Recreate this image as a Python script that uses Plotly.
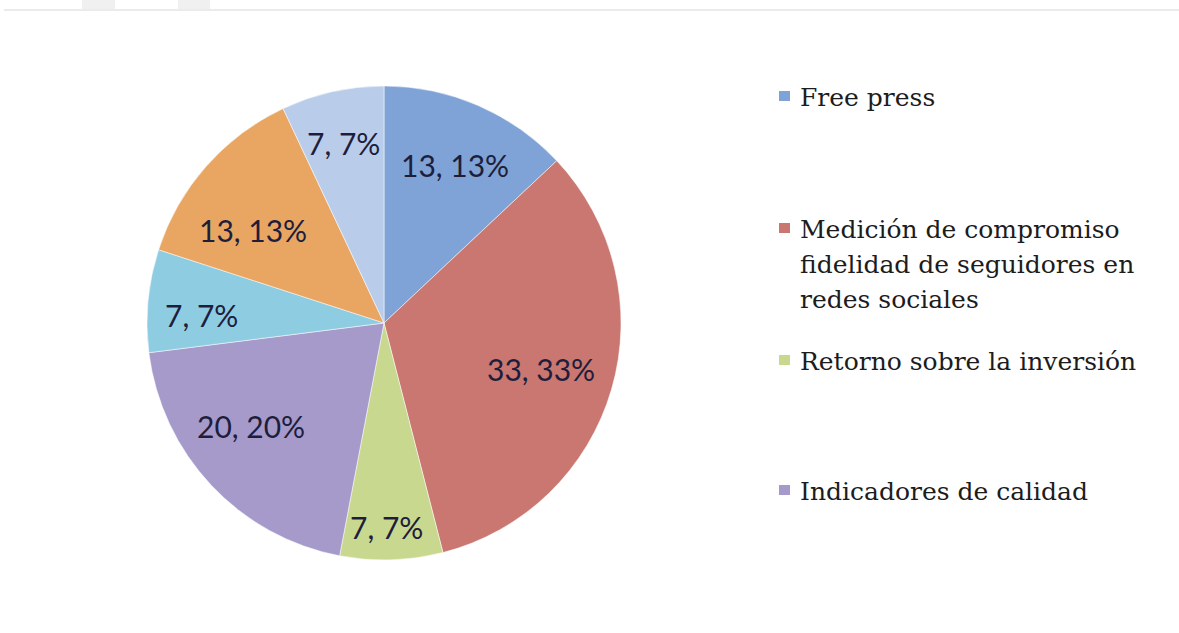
import math
import plotly.graph_objects as go

# Slice data, clockwise from 12 o'clock
categories = [
    "Free press",
    "Medición de compromiso fidelidad de seguidores en redes sociales",
    "Retorno sobre la inversión",
    "Indicadores de calidad",
    "Otros 1",
    "Otros 2",
    "Otros 3",
]
values = [13, 33, 7, 20, 7, 13, 7]
colors = ["#7fa3d6", "#c97770", "#c8d88e", "#a69acb", "#8ecce2", "#e8a662", "#b9cdea"]

# Legend entries shown at the right (first four categories)
legend_lines = [
    ["Free press"],
    ["Medición de compromiso", "fidelidad de seguidores en", "redes sociales"],
    ["Retorno sobre la inversión"],
    ["Indicadores de calidad"],
]
legend_tops = [97, 229, 361, 491]

# Data-label placement: fraction of radius and angular nudge (degrees) per slice
label_radius = [0.73, 0.69, 0.86, 0.71, 0.77, 0.68, 0.78]
label_nudge = [1, 0, 1, 5.5, -3, -6, 0]

W, H = 1179, 633
cx, cy, r = 384, 323, 237

fig = go.Figure()
fig.add_trace(go.Pie(
    labels=categories,
    values=values,
    sort=False,
    direction="clockwise",
    rotation=0,
    marker=dict(colors=colors, line=dict(color="rgba(255,255,255,0.5)", width=1)),
    textinfo="none",
    showlegend=False,
    hoverinfo="label+value+percent",
    domain=dict(x=[(cx - r) / W, (cx + r) / W], y=[(H - cy - r) / H, (H - cy + r) / H]),
))

shapes = [
    # thin rule and faint marks along the top
    dict(type="line", xref="paper", yref="paper", x0=4 / W, x1=1, y0=1 - 10 / H, y1=1 - 10 / H,
         line=dict(color="#ebebeb", width=2)),
    dict(type="rect", xref="paper", yref="paper", x0=82 / W, x1=115 / W, y0=1 - 9 / H, y1=1,
         line=dict(width=0), fillcolor="#f0f0f0"),
    dict(type="rect", xref="paper", yref="paper", x0=178 / W, x1=210 / W, y0=1 - 9 / H, y1=1,
         line=dict(width=0), fillcolor="#f0f0f0"),
]
annotations = []

# "value, percent" labels placed at each slice's mid-angle
total = sum(values)
cum = 0
for v, f, nudge in zip(values, label_radius, label_nudge):
    mid = (cum + v / 2) / total * 360 + nudge
    cum += v
    px = cx + f * r * math.sin(math.radians(mid))
    py = cy - f * r * math.cos(math.radians(mid))
    annotations.append(dict(
        text=f"{v}, {round(100 * v / total)}%", xref="paper", yref="paper",
        x=px / W, y=1 - py / H, xanchor="center", yanchor="middle", showarrow=False,
        font=dict(family="Lato", size=30, color="#1e1e3c"),
    ))

line_h = 35
for i, (lines, top) in enumerate(zip(legend_lines, legend_tops)):
    shapes.append(dict(type="rect", xref="paper", yref="paper",
                       x0=779 / W, x1=790 / W, y0=1 - (top + 4) / H, y1=1 - (top - 6) / H,
                       line=dict(width=0), fillcolor=colors[i]))
    for j, txt in enumerate(lines):
        annotations.append(dict(
            text=txt, xref="paper", yref="paper", x=798 / W, y=1 - (top + j * line_h) / H,
            xanchor="left", yanchor="middle", showarrow=False,
            font=dict(family="DejaVu Serif", size=25, color="#1c1c1c"),
        ))

fig.update_layout(
    width=W, height=H,
    margin=dict(l=0, r=0, t=0, b=0),
    paper_bgcolor="white",
    plot_bgcolor="white",
    shapes=shapes,
    annotations=annotations,
)

fig.write_html("out.html")
